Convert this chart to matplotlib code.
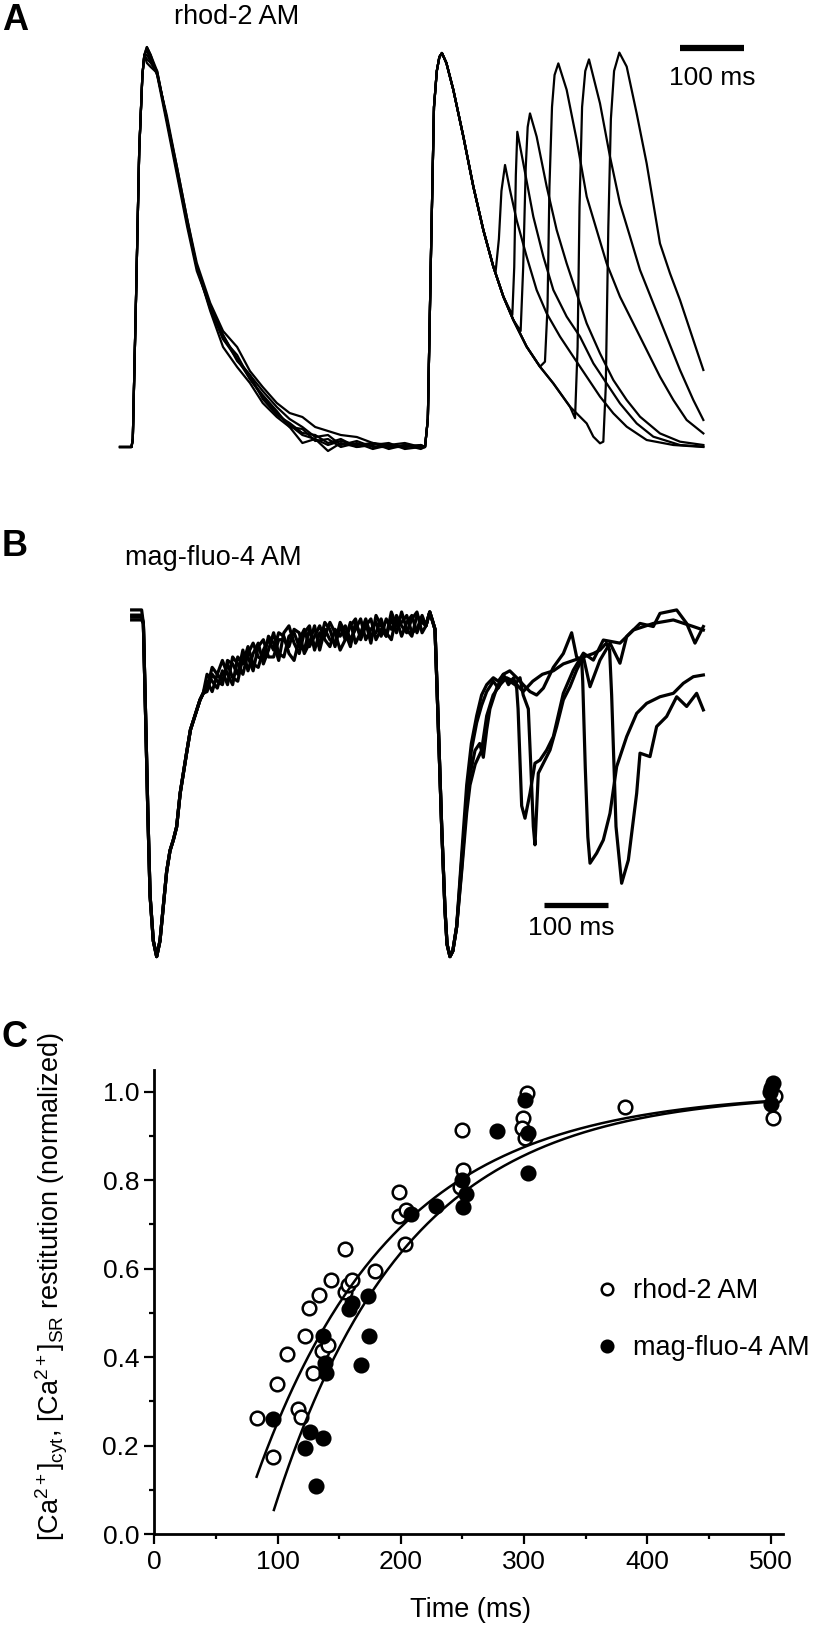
import matplotlib
matplotlib.use("Agg")
import matplotlib.pyplot as plt
from matplotlib.ticker import MultipleLocator, FormatStrFormatter
import numpy as np

plt.rcParams['font.family'] = ['Liberation Sans', 'DejaVu Sans']
plt.rcParams['mathtext.fontset'] = 'custom'
plt.rcParams['mathtext.rm'] = 'Liberation Sans'
plt.rcParams['mathtext.it'] = 'Liberation Sans:italic'
plt.rcParams['mathtext.bf'] = 'Liberation Sans:bold'

# ---------------- Panel A: rhod-2 AM (cytosolic Ca), time in ms, normalized F ----------------
A_rise1_t = [0, 18, 20, 25, 30, 35, 38]
A_rise1_F = [0.0, 0.0, 0.02, 0.37, 0.74, 0.93, 0.98]
A_peak1_t = 42
A_peak1_F = [1.0, 0.99, 0.96, 1.0, 0.98, 0.97]
A_post1_t = 48
A_post1_F = [0.98, 0.97, 0.95, 0.98, 0.965, 0.96]
A_tail_t = [58, 73, 89, 105, 120, 141, 161, 183, 203, 223, 245, 265, 285, 305, 325, 345, 370, 395, 420, 445, 470]
A_tail_F = [
    [0.94, 0.82, 0.69, 0.56, 0.45, 0.34, 0.25, 0.20, 0.16, 0.11, 0.075, 0.05, 0.01, 0.02, -0.01, 0.01, 0.0, 0.01, -0.005, 0.005, 0.0],
    [0.93, 0.83, 0.70, 0.57, 0.46, 0.36, 0.29, 0.25, 0.19, 0.15, 0.11, 0.085, 0.075, 0.05, 0.04, 0.03, 0.025, 0.01, 0.005, 0.0, 0.005],
    [0.935, 0.82, 0.69, 0.56, 0.45, 0.35, 0.28, 0.22, 0.18, 0.12, 0.08, 0.06, 0.035, 0.03, 0.01, 0.02, 0.0, 0.005, 0.01, -0.005, 0.0],
    [0.93, 0.81, 0.68, 0.55, 0.44, 0.35, 0.27, 0.23, 0.17, 0.13, 0.09, 0.05, 0.045, 0.015, 0.02, 0.0, 0.01, -0.005, 0.005, 0.01, 0.0],
    [0.94, 0.82, 0.70, 0.57, 0.45, 0.35, 0.28, 0.215, 0.18, 0.14, 0.10, 0.07, 0.05, 0.025, 0.03, 0.005, 0.015, 0.0, 0.0, 0.005, -0.005],
    [0.935, 0.82, 0.69, 0.56, 0.45, 0.345, 0.27, 0.22, 0.17, 0.125, 0.085, 0.055, 0.03, 0.02, 0.005, 0.015, 0.005, 0.01, 0.0, 0.0, 0.005],
]
A_rise2_t = [476.6, 481, 486, 490.6, 495, 499, 503, 510]
A_rise2_F = [0.0, 0.07, 0.49, 0.85, 0.94, 0.975, 0.985, 0.96]
A_decay2_t = [520.8, 536.5, 552.1, 567.7, 583.3, 599, 614.6, 635.4, 656.2, 677.1, 703.1, 729.2]
A_decay2_F = [0.893, 0.776, 0.651, 0.5425, 0.451, 0.376, 0.3175, 0.2508, 0.2008, 0.159, 0.1008, 0.059]
A_s2_onset = [587, 613, 626, 660, 705, 730]
A_s2_t = [
    [587, 592, 596, 601.6, 609.4, 619.8, 635.4, 651, 666.7, 687.5, 708.3, 729.2, 750, 770.8, 791.7, 822.9, 864.6, 911.5],
    [613, 616, 618.5, 620.8, 630.2, 645.8, 661.5, 677.1, 697.9, 718.7, 739.6, 760.4, 781.2, 807.3, 833.3, 875, 911.5],
    [626, 630, 634, 637, 640.6, 651, 666.7, 682.3, 697.9, 713.5, 729.2, 750, 770.8, 791.7, 812.5, 843.7, 875, 911.5],
    [664, 668, 671, 675, 679, 684.9, 697.9, 713.5, 729.2, 744.8, 760.4, 781.2, 802.1, 822.9, 843.7, 864.6, 885.4, 911.5],
    [711, 715, 718, 722, 727, 732.8, 750, 765.6, 781.2, 796.9, 812.5, 833.3, 854.1, 875, 895.8, 911.5],
    [739.6, 750, 755.2, 759, 763, 767, 772, 780.2, 791.7, 807.3, 822.9, 833.3, 843.7, 859.4, 875, 890.6, 901, 911.5],
]
A_s2_F = [
    [0.44, 0.52, 0.64, 0.705, 0.642, 0.567, 0.476, 0.3925, 0.334, 0.276, 0.2258, 0.1758, 0.126, 0.0842, 0.0508, 0.0175, 0.005, 0.0],
    [0.33, 0.45, 0.68, 0.788, 0.709, 0.576, 0.476, 0.3925, 0.326, 0.276, 0.2092, 0.159, 0.109, 0.059, 0.0258, 0.005, 0.001],
    [0.29, 0.45, 0.70, 0.80, 0.834, 0.776, 0.651, 0.5425, 0.459, 0.384, 0.309, 0.234, 0.1675, 0.1175, 0.0758, 0.034, 0.0133, 0.005],
    [0.2133, 0.35, 0.65, 0.85, 0.93, 0.959, 0.893, 0.768, 0.626, 0.5425, 0.459, 0.3758, 0.309, 0.2425, 0.1758, 0.1175, 0.0675, 0.034],
    [0.072, 0.25, 0.60, 0.85, 0.94, 0.969, 0.859, 0.726, 0.609, 0.526, 0.4425, 0.359, 0.276, 0.1925, 0.1175, 0.0675],
    [0.0258, 0.0092, 0.0133, 0.15, 0.55, 0.82, 0.94, 0.986, 0.951, 0.834, 0.709, 0.609, 0.509, 0.434, 0.3675, 0.2925, 0.2425, 0.1925],
]

# ---------------- Panel B: mag-fluo-4 AM (SR Ca), normalized F ----------------
B_start_t = [18.2, 33.8]
B_start_F = [1.006, 0.991, 0.977, 0.985]
B_beat1_t = [36.5, 40, 43.5, 47, 52, 57.3, 62.5, 67.7, 72.9, 78.1, 83.3, 88.5, 94, 99, 104, 110, 115, 120, 125, 130]
B_beat1_F = [0.967, 0.70, 0.42, 0.18, 0.05, 0.004, 0.05, 0.15, 0.25, 0.31, 0.341, 0.379, 0.476, 0.534, 0.592, 0.659, 0.688, 0.717, 0.746, 0.765]
B_tail_t = [136, 144, 152, 160, 168, 176, 184, 192, 200, 208, 216, 224, 232, 240, 248, 256, 264, 272, 280, 288, 296,
            304, 312, 320, 328, 336, 344, 352, 360, 368, 376, 384, 392, 400, 408, 416, 424, 432, 440, 448, 456, 464, 472]
B_tail_F = [
    [0.80, 0.77, 0.82, 0.86, 0.82, 0.79, 0.87, 0.85, 0.90, 0.85, 0.84, 0.89, 0.92, 0.89, 0.94, 0.93, 0.88, 0.86, 0.92, 0.95, 0.90,
     0.93, 0.96, 0.92, 0.90, 0.95, 0.93, 0.96, 0.92, 0.95, 0.98, 0.92, 0.95, 0.97, 0.93, 0.98, 0.95, 0.98, 0.93, 0.97, 0.99, 0.94, 0.98],
    [0.77, 0.82, 0.80, 0.79, 0.86, 0.85, 0.82, 0.89, 0.83, 0.88, 0.91, 0.85, 0.89, 0.94, 0.88, 0.87, 0.93, 0.94, 0.90, 0.89, 0.95,
     0.90, 0.91, 0.97, 0.95, 0.90, 0.96, 0.92, 0.97, 0.91, 0.94, 0.98, 0.93, 0.94, 0.98, 0.93, 0.98, 0.94, 1.00, 0.95, 0.93, 0.99, 0.97],
    [0.82, 0.80, 0.78, 0.83, 0.79, 0.87, 0.85, 0.82, 0.88, 0.91, 0.87, 0.86, 0.93, 0.91, 0.86, 0.94, 0.96, 0.91, 0.88, 0.94, 0.96,
     0.89, 0.94, 0.93, 0.97, 0.94, 0.89, 0.92, 0.96, 0.98, 0.92, 0.96, 0.98, 0.92, 0.95, 0.93, 1.00, 0.96, 0.97, 0.99, 0.94, 0.95, 0.99],
    [0.78, 0.84, 0.82, 0.80, 0.85, 0.81, 0.80, 0.87, 0.87, 0.83, 0.90, 0.92, 0.87, 0.87, 0.92, 0.92, 0.90, 0.95, 0.94, 0.88, 0.91,
     0.96, 0.89, 0.95, 0.92, 0.91, 0.97, 0.94, 0.90, 0.97, 0.93, 0.97, 0.91, 0.99, 0.96, 0.94, 0.92, 0.99, 0.96, 0.94, 0.98, 1.00, 0.94],
]
B_beat2_t = [478, 484, 489, 492.2, 495, 497.4, 502.6, 507.8, 511, 515.6, 520, 526]
B_beat2_F = [0.96, 1.0, 0.97, 0.95, 0.80, 0.669, 0.38, 0.139, 0.04, 0.004, 0.02, 0.09]
B_s2_t = [
    [533.9, 541.7, 549, 557.3, 565, 573, 583.3, 591, 599, 607, 615, 619.8, 622, 627.6, 632.8, 640.6, 648.4, 656.2, 666.7, 677.1, 692.7, 708.3, 724, 739.6, 755.2, 781.2, 802.1, 833.3, 864.6, 895.8, 911.5],
    [533.9, 541.7, 549, 557.3, 565, 573, 583.3, 591, 599, 609, 617, 625, 630, 638, 642, 645.8, 648.4, 653.6, 661.5, 671.9, 682.3, 692.7, 703.1, 713.5, 724, 734.4, 750, 765.6, 781.2, 791.7, 812.5, 833.3, 843.7, 869.8, 885.4, 898.4, 911.5],
    [533.9, 541.7, 546.9, 554.7, 562, 567.7, 573, 578, 588.5, 599, 609, 620, 630, 640.6, 651, 661.5, 677.1, 692.7, 705.7, 713.5, 721.4, 723, 727, 731, 734.4, 744.8, 755.2, 765.6, 776, 791.7, 807.3, 822.9, 843.7, 864.6, 880.2, 895.8, 911.5],
    [533.9, 541.7, 546.9, 555, 565, 573, 583, 594, 604, 615, 630, 645, 660, 677.1, 692.7, 708.3, 724, 739.6, 750, 760, 765, 768.2, 775, 783.8, 794.3, 807.3, 812.5, 828.1, 838.5, 854.1, 869.8, 885.4, 901, 911.5],
]
B_s2_F = [
    [0.30, 0.50, 0.62, 0.70, 0.76, 0.79, 0.81, 0.80, 0.82, 0.79, 0.81, 0.78, 0.72, 0.44, 0.404, 0.476, 0.563, 0.572, 0.601, 0.64, 0.765, 0.832, 0.881, 0.861, 0.919, 0.91, 0.948, 0.967, 0.977, 0.958, 0.948],
    [0.26, 0.46, 0.60, 0.68, 0.73, 0.77, 0.80, 0.78, 0.81, 0.80, 0.79, 0.81, 0.76, 0.72, 0.55, 0.38, 0.327, 0.534, 0.563, 0.601, 0.669, 0.746, 0.784, 0.832, 0.871, 0.784, 0.861, 0.91, 0.852, 0.929, 0.967, 0.958, 0.996, 1.006, 0.967, 0.91, 0.958],
    [0.283, 0.45, 0.53, 0.60, 0.62, 0.58, 0.66, 0.72, 0.78, 0.82, 0.83, 0.81, 0.79, 0.77, 0.76, 0.78, 0.84, 0.88, 0.94, 0.87, 0.86, 0.80, 0.55, 0.35, 0.274, 0.303, 0.341, 0.418, 0.553, 0.64, 0.707, 0.736, 0.755, 0.765, 0.794, 0.813, 0.818],
    [0.25, 0.42, 0.50, 0.56, 0.60, 0.70, 0.76, 0.79, 0.81, 0.80, 0.77, 0.80, 0.82, 0.83, 0.85, 0.86, 0.87, 0.88, 0.89, 0.91, 0.89, 0.76, 0.38, 0.216, 0.283, 0.476, 0.592, 0.582, 0.669, 0.698, 0.755, 0.727, 0.765, 0.717],
]

# ---------------- Panel C: restitution data ----------------
rhod_t = [83, 96, 99.7, 107.8, 116.5, 118.6, 122.4, 125.4, 128.4, 133.5, 135.7, 141.1, 143, 155, 154.6, 157.3, 160, 179,
          198.6, 198.6, 204, 203, 250, 250.5, 248, 302, 299.2, 297.9, 300.6, 382.2, 503.3, 501.9]
rhod_y = [0.262, 0.174, 0.339, 0.407, 0.282, 0.266, 0.447, 0.511, 0.365, 0.541, 0.413, 0.427, 0.575, 0.645, 0.547, 0.563, 0.575, 0.595,
          0.774, 0.720, 0.733, 0.655, 0.913, 0.823, 0.785, 0.996, 0.940, 0.917, 0.895, 0.966, 0.989, 0.940]
mag_t = [96.5, 122, 126, 136.5, 130.8, 137, 138.4, 139.2, 158, 160, 173, 174, 167.6, 208.6, 228.4, 250.5, 253, 250,
         277.6, 300.6, 303.3, 303.3, 502, 500.6, 499.2, 500.6]
mag_y = [0.260, 0.196, 0.232, 0.217, 0.108, 0.447, 0.386, 0.365, 0.508, 0.523, 0.539, 0.447, 0.383, 0.724, 0.742, 0.739, 0.769, 0.80,
         0.912, 0.981, 0.907, 0.817, 1.019, 1.008, 1.0, 0.972]
# mono-exponential fits: y = A*(1-exp(-(t-t0)/tau))
fit_rhod = dict(A=1.0, t0=67.4, tau=112.0, tmin=83, tmax=502)
fit_mag = dict(A=1.0, t0=90.9, tau=108.0, tmin=97, tmax=502)

# ================= figure =================
W, H = 815, 1626
fig = plt.figure(figsize=(W / 100, H / 100), dpi=100)

def box(x0, y0, x1, y1):
    return [x0 / W, 1 - y1 / H, (x1 - x0) / W, (y1 - y0) / H]

# ---- Panel A ----
axA = fig.add_axes(box(100, 30, 760, 470))
axA.set_xlim(-31.25, 1000)
axA.set_ylim(-0.0575, 1.0425)
axA.axis('off')
for k in range(6):
    t = list(A_rise1_t) + [A_peak1_t, A_post1_t] + list(A_tail_t) + list(A_rise2_t)
    F = list(A_rise1_F) + [A_peak1_F[k], A_post1_F[k]] + list(A_tail_F[k]) + list(A_rise2_F)
    for tt, ff in zip(A_decay2_t, A_decay2_F):
        if tt < A_s2_onset[k]:
            t.append(tt); F.append(ff)
    t += A_s2_t[k]; F += A_s2_F[k]
    axA.plot(t, F, color='black', lw=1.6, solid_joinstyle='round')
axA.plot([875, 975], [0.9975, 0.9975], color='black', lw=4.5, solid_capstyle='butt')
axA.text(925, 0.9225, '100 ms', ha='center', va='center', fontsize=19)

# ---- Panel B ----
axB = fig.add_axes(box(100, 540, 760, 980))
axB.set_xlim(-31.25, 1000)
axB.set_ylim(-0.0636, 1.2081)
axB.axis('off')
for k in range(4):
    t = list(B_start_t) + list(B_beat1_t) + list(B_tail_t) + list(B_beat2_t) + list(B_s2_t[k])
    F = [B_start_F[k]] * 2 + list(B_beat1_F) + list(B_tail_F[k]) + list(B_beat2_F) + list(B_s2_F[k])
    axB.plot(t, F, color='black', lw=2.3, solid_joinstyle='round')
axB.plot([662.5, 762.5], [0.153, 0.153], color='black', lw=3.8, solid_capstyle='butt')
axB.text(705.7, 0.0867, '100 ms', ha='center', va='center', fontsize=19)

# ---- Panel labels / titles ----
fig.text(15 / W, 1 - 21 / H, 'A', fontsize=26, fontweight='bold', ha='center', va='center')
fig.text(15 / W, 1 - 547 / H, 'B', fontsize=26, fontweight='bold', ha='center', va='center')
fig.text(14.5 / W, 1 - 1037 / H, 'C', fontsize=26, fontweight='bold', ha='center', va='center')
fig.text(236.5 / W, 1 - 17 / H, 'rhod-2 AM', fontsize=19.5, ha='center', va='center')
fig.text(213 / W, 1 - 558 / H, 'mag-fluo-4 AM', fontsize=19.5, ha='center', va='center')

# ---- Panel C ----
axC = fig.add_axes(box(154.3, 1070, 783, 1534.3))
axC.set_xlim(0, 510)
axC.set_ylim(0, 1.0488)
for s in ['top', 'right']:
    axC.spines[s].set_visible(False)
for s in ['left', 'bottom']:
    axC.spines[s].set_linewidth(2.0)
axC.xaxis.set_major_locator(MultipleLocator(100))
axC.xaxis.set_minor_locator(MultipleLocator(50))
axC.yaxis.set_major_locator(MultipleLocator(0.2))
axC.yaxis.set_minor_locator(MultipleLocator(0.1))
axC.yaxis.set_major_formatter(FormatStrFormatter('%.1f'))
axC.tick_params(which='major', direction='out', length=7, width=1.6, labelsize=19, pad=4)
axC.tick_params(which='minor', direction='out', length=3.8, width=1.6)

axC.plot(rhod_t, rhod_y, 'o', ms=9.8, mfc='white', mec='black', mew=1.8, ls='none', zorder=3,
         label='rhod-2 AM', clip_on=False)
axC.plot(mag_t, mag_y, 'o', ms=9.8, mfc='black', mec='black', mew=1.8, ls='none', zorder=4,
         label='mag-fluo-4 AM', clip_on=False)
for fit in (fit_rhod, fit_mag):
    tt = np.linspace(fit['tmin'], fit['tmax'], 300)
    yy = fit['A'] * (1 - np.exp(-(tt - fit['t0']) / fit['tau']))
    axC.plot(tt, yy, color='black', lw=1.8, zorder=5)

leg = axC.legend(loc='upper left', bbox_to_anchor=(0.6986, 0.5517), frameon=False, fontsize=19.5,
                 handlelength=1.0, handletextpad=0.45, labelspacing=1.15, borderpad=0,
                 borderaxespad=0, numpoints=1, markerscale=0.85)

fig.text(470 / W, 1 - 1610 / H, 'Time (ms)', fontsize=19.5, ha='center', va='center')
fig.text(52 / W, 1 - 1287 / H,
         r'[Ca$^{2+}$]$_{\mathrm{cyt}}$, [Ca$^{2+}$]$_{\mathrm{SR}}$ restitution (normalized)',
         fontsize=19.5, rotation=90, ha='center', va='center')

fig.savefig('out.png', dpi=100)
